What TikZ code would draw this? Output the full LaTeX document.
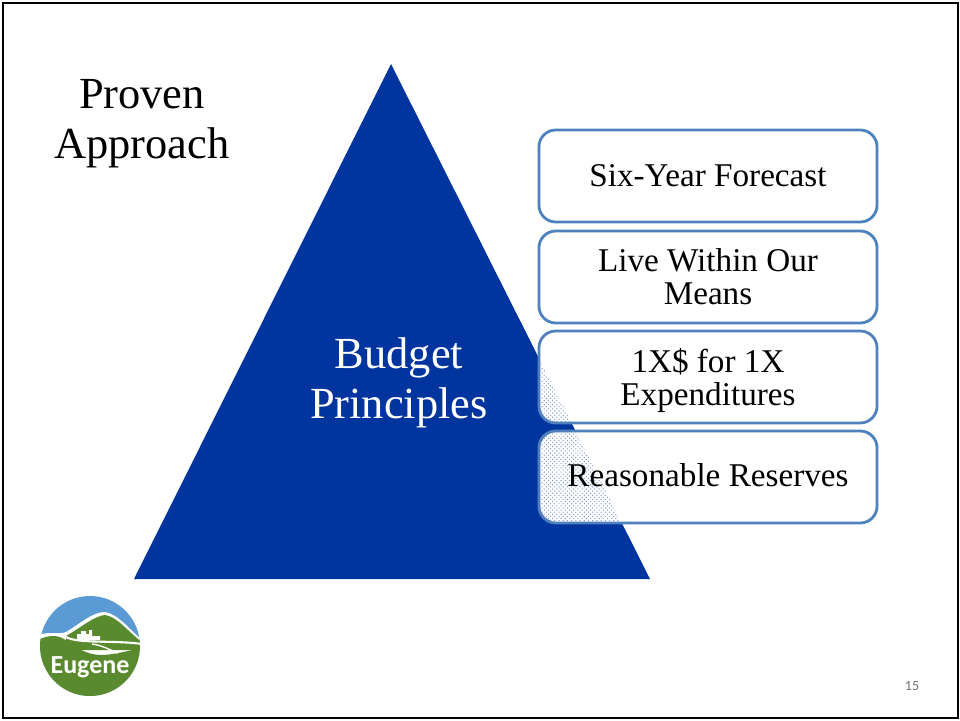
\documentclass[tikz,border=0pt]{standalone}
\usepackage{fontspec}
\setmainfont{Liberation Serif}
\newfontfamily\labelfont{Carlito}
\usetikzlibrary{patterns}
\definecolor{pyramidblue}{HTML}{00349E}
\definecolor{boxblue}{HTML}{4F81BD}
\definecolor{logoblue}{HTML}{5B9BD5}
\definecolor{logogreen}{HTML}{5A8A2E}
\tikzset{
	budgetbox/.style={draw=boxblue, line width=2pt, fill=white, rounded corners=0.42cm, minimum width=8.45cm, minimum height=2.3cm, align=center, font=\fontsize{23.6}{23.5}\selectfont},
	overlapbox/.style={budgetbox, path picture={\fill[pattern=crosshatch dots, pattern color=pyramidblue!50] (apex) -- (baseleft) -- (baseright) -- cycle;}},
	bigtext/.style={align=center, font=\fontsize{31.6}{36}\selectfont}
}
\begin{document}
\begin{tikzpicture}[x=0.025cm, y=-0.025cm]
	\useasboundingbox (0,0) rectangle (960,721);

	% Slide frame
	\draw[line width=1.5pt] (3,3) rectangle (958,718);

	% Title
	\node[bigtext] (title) at (142,123.5) {Proven\\Approach};

	% Pyramid
	\coordinate (apex) at (391,64);
	\coordinate (baseleft) at (134,579);
	\coordinate (baseright) at (650,579);
	\fill[pyramidblue] (apex) -- (baseleft) -- (baseright) -- cycle;
	\node[bigtext, text=white] (principles) at (399,383) {Budget\\Principles};

	% Boxes
	\node[budgetbox] (forecast) at (708,176) {Six-Year Forecast};
	\node[budgetbox] (means) at (708,277) {Live Within Our\\Means};
	\node[overlapbox] (onetime) at (708,377) {1X\$ for 1X\\\smash{Expenditures}};
	\node[overlapbox] (reserves) at (708,477) {Reasonable Reserves\rule[-3pt]{0pt}{1pt}};

	% Logo
	\begin{scope}
		\clip (90,646) circle (50);
		\fill[logoblue] (40,596) rectangle (140,696);
		\fill[white] (38,635) .. controls (50,631) and (60,635) .. (66,632) .. controls (80,624) and (92,612) .. (105,612) .. controls (118,614) and (130,630) .. (142,640) -- (142,700) -- (38,700) -- cycle;
		\fill[logogreen] (66,636) .. controls (82,627) and (94,616) .. (105,615) .. controls (118,617) and (128,632) .. (142,642) -- (142,650) -- (66,650) -- cycle;
		\fill[logogreen] (38,640) .. controls (46,636) and (54,635) .. (60,637) .. controls (70,641) and (80,654) .. (100,655) .. controls (115,655) and (130,650) .. (142,648) -- (142,700) -- (38,700) -- cycle;
		\fill[white] (77,640) -- (77,634) -- (81,634) -- (81,631) -- (86,631) -- (86,634) -- (89,634) -- (89,630) -- (92,630) -- (92,636) -- (100,636) -- (100,640) -- cycle;
		\draw[white, line width=1.5pt] (66,637) .. controls (78,644) and (115,640) .. (142,644);
		\draw[white, line width=1pt] (92,644) .. controls (102,645) and (112,651) .. (118,653);
	\end{scope}
	\node[text=white, font=\labelfont\bfseries\fontsize{18.5}{18.5}\selectfont] (eugene) at (90,667) {Eugene};

	% Page number
	\node[text=black!55, font=\labelfont\fontsize{10}{10}\selectfont] (pagenum) at (912,686) {15};
\end{tikzpicture}
\end{document}
